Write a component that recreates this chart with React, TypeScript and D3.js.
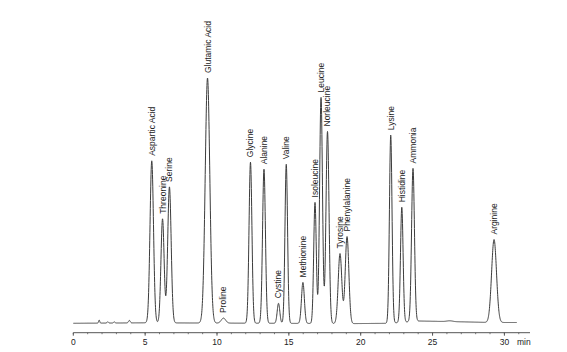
import * as d3 from 'd3';

// peak table (time in min, height in detector units)
const peakNames = [
  'Aspartic Acid', 'Threonine', 'Serine', 'Glutamic Acid', 'Proline', 'Glycine', 'Alanine',
  'Cystine', 'Valine', 'Methionine', 'Isoleucine', 'Leucine', 'Norleucine', 'Tyrosine',
  'Phenylalanine', 'Lysine', 'Histidine', 'Ammonia', 'Arginine',
];
const retentionTimes = [
  5.46, 6.21, 6.69, 9.34, 10.45, 12.33, 13.27, 14.28, 14.82, 15.98, 16.82, 17.24, 17.69,
  18.56, 19.05, 22.09, 22.86, 23.64, 29.28,
];
const peakHeights = [
  162, 104, 136, 245, 5, 161, 154, 20, 159, 41, 121, 226, 192, 70, 87, 188, 115, 153, 83,
];
const peakWidths = [
  0.12, 0.11, 0.12, 0.16, 0.15, 0.1, 0.1, 0.09, 0.09, 0.1, 0.09, 0.1, 0.105, 0.125, 0.125,
  0.09, 0.09, 0.1, 0.17,
];

// small unlabeled bumps
const minorTimes = [1.8, 2.4, 2.85, 3.9, 26.2];
const minorHeights = [3, 1.3, 1.1, 2.5, 0.8];
const minorWidths = [0.04, 0.05, 0.05, 0.06, 0.2];

// baseline drift
const baselineTimes = [0, 5, 19.5, 22, 24, 27, 29, 30.86];
const baselineLevels = [0, 0.5, -0.3, 0, 2.3, 1.5, 0.8, 0.8];

const majorTicks = [0, 5, 10, 15, 20, 25, 30];
const minorTicks = d3.range(0, 32, 1);
const runEnd = 30.86;

const gauss = (t: number, c: number, h: number, s: number) =>
  h * Math.exp(-((t - c) * (t - c)) / (2 * s * s));

const App = () => {
  const x = d3.scaleLinear().domain([0, 30]).range([73.3, 504.4]);
  const y = d3.scaleLinear().domain([0, 250]).range([323.3, 73.3]);
  const base = d3.scaleLinear().domain(baselineTimes).range(baselineLevels);

  const signal = (t: number) => {
    let v = base(t);
    retentionTimes.forEach((c, i) => (v += gauss(t, c, peakHeights[i], peakWidths[i])));
    minorTimes.forEach((c, i) => (v += gauss(t, c, minorHeights[i], minorWidths[i])));
    return v;
  };

  const times = d3.range(0, runEnd, 0.01).concat([runEnd]);
  const line = d3.line<number>().x((t) => x(t)).y((t) => y(signal(t)));

  const axisY = 332.7;
  const font = '"Liberation Sans", Arial, sans-serif';

  return (
    <svg width={567} height={352} style={{ position: 'absolute', left: 0, top: 0, background: '#fff' }}>
      <path d={line(times) ?? ''} fill="none" stroke="#3c3c3c" strokeWidth={1} />

      {/* peak labels */}
      {peakNames.map((name, i) => {
        const t = retentionTimes[i];
        const py = y(signal(t)) - 5;
        return (
          <text
            key={name}
            transform={`translate(${x(t)},${py}) rotate(-90)`}
            dy="0.35em"
            fontFamily={font}
            fontSize={8.5}
            fill="#222"
          >
            {name}
          </text>
        );
      })}

      {/* time axis */}
      <line x1={x(0)} x2={530} y1={axisY} y2={axisY} stroke="#555" strokeWidth={1} />
      {minorTicks.map((t) => (
        <line key={'m' + t} x1={x(t)} x2={x(t)} y1={axisY} y2={axisY + 1.5} stroke="#555" strokeWidth={0.8} />
      ))}
      {majorTicks.map((t) => (
        <g key={'M' + t}>
          <line x1={x(t)} x2={x(t)} y1={axisY} y2={axisY + 3} stroke="#555" strokeWidth={1} />
          <text x={x(t)} y={344.5} textAnchor="middle" fontFamily={font} fontSize={8.5} fill="#222">
            {t}
          </text>
        </g>
      ))}
      <text x={517} y={344.5} fontFamily={font} fontSize={8.5} fill="#222">
        min
      </text>
    </svg>
  );
};

export default App;
